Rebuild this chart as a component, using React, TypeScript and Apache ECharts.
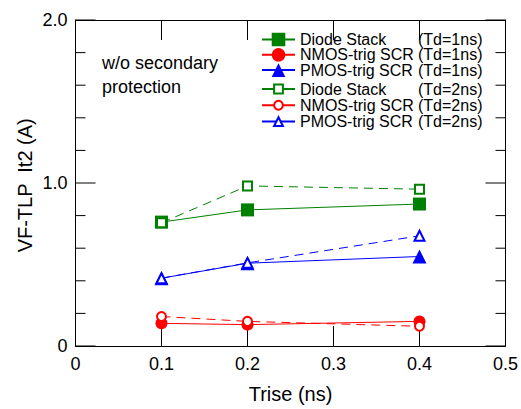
import React, { useEffect, useRef } from "react";
import * as echarts from "echarts";

const trise = [0.1, 0.2, 0.4];
const deviceNames = ["Diode Stack", "NMOS-trig SCR", "PMOS-trig SCR"];
const tdLabels = ["(Td=1ns)", "(Td=2ns)"];
const colors = ["#008000", "#ff0000", "#0000ff"];
const diode1 = [0.76, 0.835, 0.871];
const nmos1 = [0.139, 0.131, 0.151];
const pmos1 = [0.416, 0.508, 0.549];
const diode2 = [0.756, 0.982, 0.962];
const nmos2 = [0.181, 0.151, 0.121];
const pmos2 = [0.416, 0.51, 0.676];
const xTickValues = [0, 0.1, 0.2, 0.3, 0.4, 0.5];
const yMajorTicks = [0, 1, 2];
const yMinorTicks = [0.2, 0.4, 0.6, 0.8, 1.2, 1.4, 1.6, 1.8];

const FONT = "'Liberation Sans', Arial, sans-serif";
const X_MIN = 0;
const X_MAX = 0.5;
const Y_MIN = 0;
const Y_MAX = 2;

const fmtTick = (v: number) => {
  if (typeof v !== "number" || !isFinite(v)) return "";
  return Math.abs(v) < 1e-9 ? "0" : v.toFixed(1);
};

export default function App() {
  const ref = useRef<HTMLDivElement>(null);
  useEffect(() => {
    if (!ref.current) return;
    const chart = echarts.init(ref.current, undefined, { renderer: "svg" });
    const filledSymbols = ["rect", "circle", "triangle"];
    const emptySymbols = ["emptyRect", "emptyCircle", "emptyTriangle"];
    const filledSizes = [13, 12, 14];
    const emptySizes = [9, 9, 10];
    const set1 = [diode1, nmos1, pmos1];
    const set2 = [diode2, nmos2, pmos2];
    const names1 = deviceNames.map((d) => `${d} ${tdLabels[0]}`);
    const names2 = deviceNames.map((d) => `${d} ${tdLabels[1]}`);
    const series: any[] = [];

    // tick marks on all four sides, positioned through the axes' scales
    const tickData: number[][] = [];
    xTickValues.forEach((v) => tickData.push([0, v, 20]));
    yMajorTicks.forEach((v) => tickData.push([1, v, 20]));
    yMinorTicks.forEach((v) => tickData.push([1, v, 10]));
    series.push({
      type: "custom",
      name: "ticks",
      coordinateSystem: "cartesian2d",
      silent: true,
      clip: false,
      z: 1,
      encode: { x: 1, y: 1 },
      data: tickData,
      renderItem: (params: any, api: any) => {
        const kind = api.value(0);
        const v = api.value(1);
        const len = api.value(2);
        const st = { stroke: "#000", lineWidth: 1 };
        if (kind === 0) {
          const b = api.coord([v, Y_MIN]);
          const t = api.coord([v, Y_MAX]);
          return {
            type: "group",
            children: [
              { type: "line", shape: { x1: b[0], y1: b[1], x2: b[0], y2: b[1] - len }, style: st },
              { type: "line", shape: { x1: t[0], y1: t[1], x2: t[0], y2: t[1] + len }, style: st },
            ],
          };
        }
        const l = api.coord([X_MIN, v]);
        const r = api.coord([X_MAX, v]);
        return {
          type: "group",
          children: [
            { type: "line", shape: { x1: l[0], y1: l[1], x2: l[0] + len, y2: l[1] }, style: st },
            { type: "line", shape: { x1: r[0], y1: r[1], x2: r[0] - len, y2: r[1] }, style: st },
          ],
        };
      },
    });

    set1.forEach((vals, i) => {
      series.push({
        type: "line",
        name: names1[i],
        data: vals.map((v, j) => [trise[j], v]),
        symbol: filledSymbols[i],
        symbolSize: filledSizes[i],
        lineStyle: { color: colors[i], width: 1, type: "solid" },
        itemStyle: { color: colors[i] },
        z: 2,
      });
    });
    set2.forEach((vals, i) => {
      series.push({
        type: "line",
        name: names2[i],
        data: vals.map((v, j) => [trise[j], v]),
        symbol: emptySymbols[i],
        symbolSize: emptySizes[i],
        lineStyle: { color: colors[i], width: 1, type: [9, 6] },
        itemStyle: { color: colors[i], borderWidth: 1.2 },
        z: 3,
      });
    });
    const legendText = {
      fontSize: 16,
      fontFamily: FONT,
      color: "#000",
      rich: {
        a: { width: 118, fontSize: 16, fontFamily: FONT, color: "#000", lineHeight: 16 },
        b: { fontSize: 16, fontFamily: FONT, color: "#000", lineHeight: 16 },
      },
    };
    const fmt = (name: string) => {
      const idx = name.lastIndexOf(" (");
      if (idx < 0) return name;
      return `{a|${name.slice(0, idx)}}{b|${name.slice(idx + 1)}}`;
    };
    const line = () => ({ show: true, onZero: false, lineStyle: { color: "#000", width: 1 } });
    const option: any = {
      animation: false,
      backgroundColor: "#fff",
      grid: { left: 75.5, right: 15, top: 20, bottom: 58.3 },
      legend: [
        {
          data: names1,
          orient: "vertical",
          left: 261,
          top: 31.5,
          padding: 0,
          itemWidth: 33,
          itemHeight: 17,
          itemGap: -0.7,
          lineStyle: { type: "solid" },
          formatter: fmt,
          textStyle: legendText,
          selectedMode: false,
        },
        {
          data: names2,
          orient: "vertical",
          left: 261,
          top: 81,
          padding: 0,
          itemWidth: 33,
          itemHeight: 11,
          itemGap: 0.3,
          lineStyle: { type: "solid" },
          formatter: fmt,
          textStyle: legendText,
          selectedMode: false,
        },
      ],
      graphic: [
        {
          type: "text",
          left: 102,
          top: 50.7,
          style: {
            text: "w/o secondary\nprotection",
            font: `18px ${FONT}`,
            lineHeight: 24,
            fill: "#000",
          },
        },
        {
          type: "text",
          x: 25,
          y: 185.3,
          rotation: Math.PI / 2,
          style: {
            text: "VF-TLP  It2 (A)",
            font: `20px ${FONT}`,
            fill: "#000",
            align: "center",
            verticalAlign: "middle",
          },
        },
      ],
      xAxis: [
        {
          type: "value",
          min: X_MIN,
          max: X_MAX,
          interval: 0.1,
          position: "bottom",
          name: "Trise (ns)",
          nameLocation: "middle",
          nameGap: 38,
          nameTextStyle: { fontSize: 20, fontFamily: FONT, color: "#000" },
          axisLine: line(),
          axisTick: { show: false },
          axisLabel: { fontSize: 18, fontFamily: FONT, color: "#000", margin: 9, formatter: fmtTick },
          splitLine: { show: false },
        },
        {
          type: "value",
          min: X_MIN,
          max: X_MAX,
          interval: 0.1,
          position: "top",
          axisLine: line(),
          axisTick: { show: false },
          axisLabel: { show: false },
          splitLine: { show: false },
        },
      ],
      yAxis: [
        {
          type: "value",
          min: Y_MIN,
          max: Y_MAX,
          interval: 1,
          position: "left",
          axisLine: line(),
          axisTick: { show: false },
          axisLabel: { fontSize: 18, fontFamily: FONT, color: "#000", margin: 8, formatter: fmtTick },
          splitLine: { show: false },
        },
        {
          type: "value",
          min: Y_MIN,
          max: Y_MAX,
          interval: 1,
          position: "right",
          axisLine: line(),
          axisTick: { show: false },
          axisLabel: { show: false },
          splitLine: { show: false },
        },
      ],
      series,
    };
    chart.setOption(option);
    return () => chart.dispose();
  }, []);
  return (
    <div
      ref={ref}
      style={{ position: "fixed", left: 0, top: 0, width: 521, height: 409, background: "#fff" }}
    />
  );
}
